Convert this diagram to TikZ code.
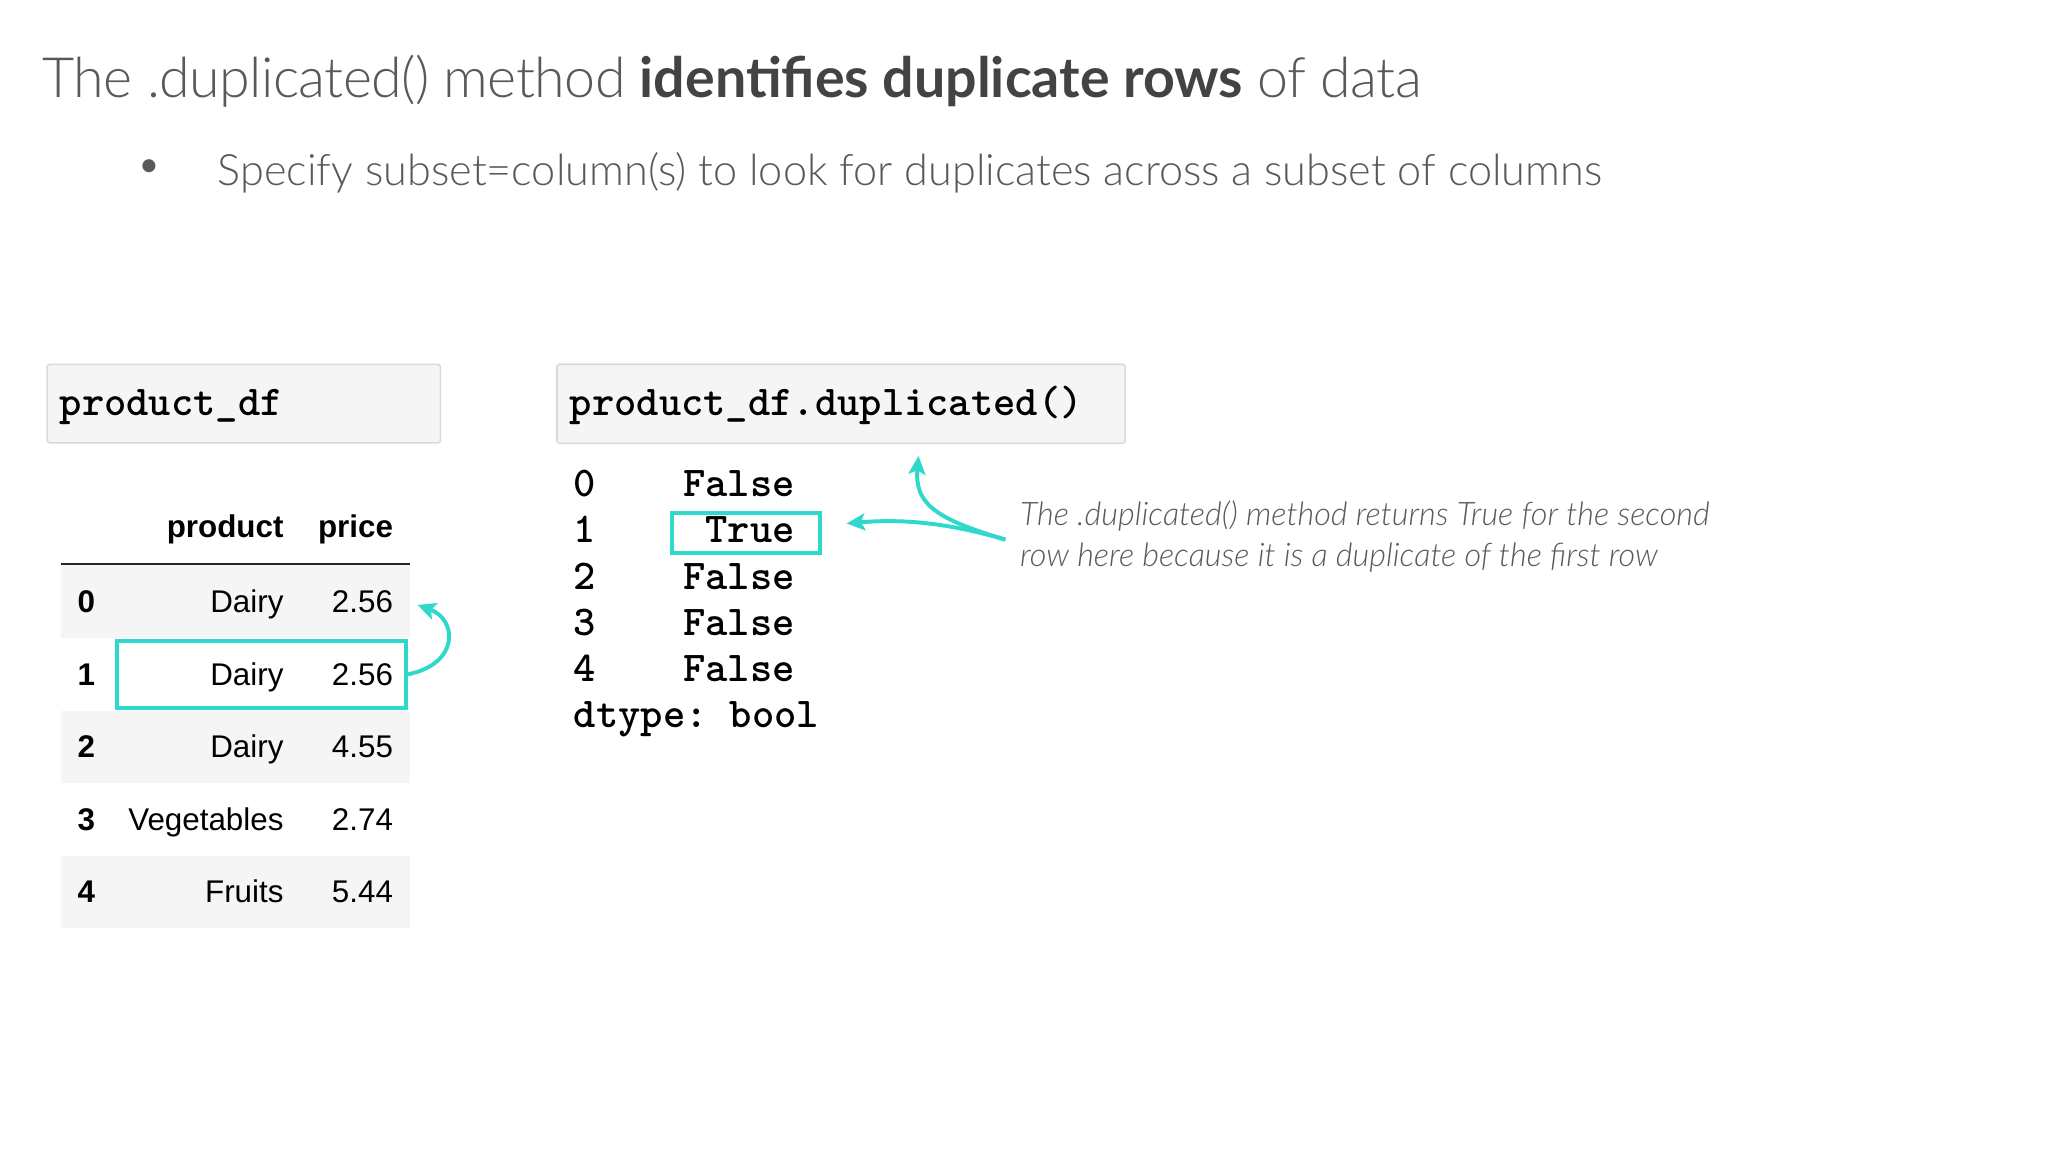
\documentclass[tikz,border=0pt]{standalone}
\usepackage{fontspec}
\setmainfont{Lato}
\newfontfamily\lato{Lato}
\newfontfamily\lalight{Lato Light}[ItalicFont={Lato Light Italic}]
\newfontfamily\lalighttight{Lato Light}[LetterSpace=-1.1]
\newfontfamily\tabfont{Liberation Sans}
\usetikzlibrary{arrows.meta}
\definecolor{tealc}{HTML}{2ED8CB}
\definecolor{txtgray}{HTML}{595959}
\definecolor{boldgray}{HTML}{434343}
\definecolor{codebg}{HTML}{F5F5F5}
\definecolor{codeborder}{HTML}{DADADA}
\definecolor{rowbg}{HTML}{F5F5F5}
\tikzset{
  codebox/.style={draw=codeborder, fill=codebg, line width=1.2pt, rounded corners=2pt, anchor=north west, inner sep=0pt},
  codetxt/.style={anchor=base west, inner sep=0pt, font=\fontsize{32.5}{36}\ttfamily\bfseries},
  outtxt/.style={inner sep=0pt, font=\fontsize{32.5}{36}\ttfamily\bfseries},
  cell/.style={anchor=base east, inner sep=0pt, font=\fontsize{24}{28}\tabfont},
  hcell/.style={anchor=base east, inner sep=0pt, font=\fontsize{24}{28}\tabfont\bfseries},
  idx/.style={anchor=base, inner sep=0pt, font=\fontsize{24}{28}\tabfont\bfseries},
  hilite/.style={draw=tealc, line width=3pt, inner sep=0pt},
  tealarrow/.style={draw=tealc, line width=3pt, -{Stealth[length=14pt,width=13pt,inset=3pt]}},
}
\begin{document}
\frenchspacing
\begin{tikzpicture}[x=1pt,y=-1pt]
\useasboundingbox[fill=white] (0,0) rectangle (1569,880.2);
% title
\node[anchor=base west, inner sep=0pt, text=txtgray, font=\fontsize{42.5}{48}\lalighttight] (title) at (32.6,74.5)
  {The .duplicated() method {\lato\bfseries\color{boldgray}identifies duplicate rows} of data};
% bullet
\node[anchor=center, inner sep=0pt, text=txtgray, font=\fontsize{34}{40}\lalight] (bul) at (114.3,130) {•};
\node[anchor=base west, inner sep=0pt, text=txtgray, font=\fontsize{33.1}{40}\lalight] (sub) at (166.5,142)
  {Specify subset=column(s) to look for duplicates across a subset of columns};
% code boxes
\node[codebox, minimum width=301pt, minimum height=60pt] (cb1) at (35.5,278.3) {};
\node[codetxt] (c1) at (45.5,317.7) {product\_df};
\node[codebox, minimum width=434.8pt, minimum height=60.5pt] (cb2) at (425.7,278.2) {};
\node[codetxt] (c2) at (436,317.7) {product\_df.duplicated()};
% table
\fill[rowbg] (46.5,432) rectangle (313.8,488);
\fill[rowbg] (46.5,544) rectangle (313.8,599.5);
\fill[rowbg] (46.5,655) rectangle (313.8,710.5);
\node[hcell] (hprod) at (217.2,411.5) {product};
\node[hcell] (hprice) at (301,411.5) {price};
\draw[line width=1.4pt, black!85] (46.5,431.5) -- (313.8,431.5);
\node[idx] (i0) at (66,469) {0};
\node[cell] (p0) at (217.2,469) {Dairy};
\node[cell] (q0) at (301,469) {2.56};
\node[idx] (i1) at (66,524.3) {1};
\node[cell] (p1) at (217.2,524.3) {Dairy};
\node[cell] (q1) at (301,524.3) {2.56};
\node[idx] (i2) at (66,579.8) {2};
\node[cell] (p2) at (217.2,579.8) {Dairy};
\node[cell] (q2) at (301,579.8) {4.55};
\node[idx] (i3) at (66,635.3) {3};
\node[cell] (p3) at (217.2,635.3) {Vegetables};
\node[cell] (q3) at (301,635.3) {2.74};
\node[idx] (i4) at (66,690.8) {4};
\node[cell] (p4) at (217.2,690.8) {Fruits};
\node[cell] (q4) at (301,690.8) {5.44};
\node[hilite, minimum width=221pt, minimum height=51pt] (dup) at (200.2,516.1) {};
\coordinate (t0) at (319.5,463);
\draw[tealarrow] (dup.east) .. controls (352,508) and (350,474) .. (t0);
% output
\node[outtxt, anchor=base west] (o0) at (439,380) {0};
\node[outtxt, anchor=base east] (v0) at (608.5,380) {False};
\node[outtxt, anchor=base west] (o1) at (439,415.4) {1};
\node[outtxt, anchor=base east] (v1) at (608.5,415.4) {True};
\node[outtxt, anchor=base west] (o2) at (439,450.8) {2};
\node[outtxt, anchor=base east] (v2) at (608.5,450.8) {False};
\node[outtxt, anchor=base west] (o3) at (439,486.2) {3};
\node[outtxt, anchor=base east] (v3) at (608.5,486.2) {False};
\node[outtxt, anchor=base west] (o4) at (439,521.6) {4};
\node[outtxt, anchor=base east] (v4) at (608.5,521.6) {False};
\node[outtxt, anchor=base west] (dt) at (439,557) {dtype:\ bool};
\node[hilite, minimum width=113pt, minimum height=31pt] (tb) at (571,408) {};
% annotation
\node[anchor=base west, inner sep=0pt, align=left, text=txtgray, font=\fontsize{24.8}{31.5}\lalight\itshape] (note) at (780.5,433.5)
  {The .duplicated() method returns True for the second\\row here because it is a duplicate of the first row};
\coordinate (ns) at (769.5,413);
\coordinate (ta) at (648,400.7);
\coordinate (tu) at (703,349);
\draw[tealarrow] (ns) .. controls (725,400) and (690,397) .. (ta);
\draw[tealarrow] (ns) .. controls (715,397) and (700,385) .. (tu);
\end{tikzpicture}
\end{document}
